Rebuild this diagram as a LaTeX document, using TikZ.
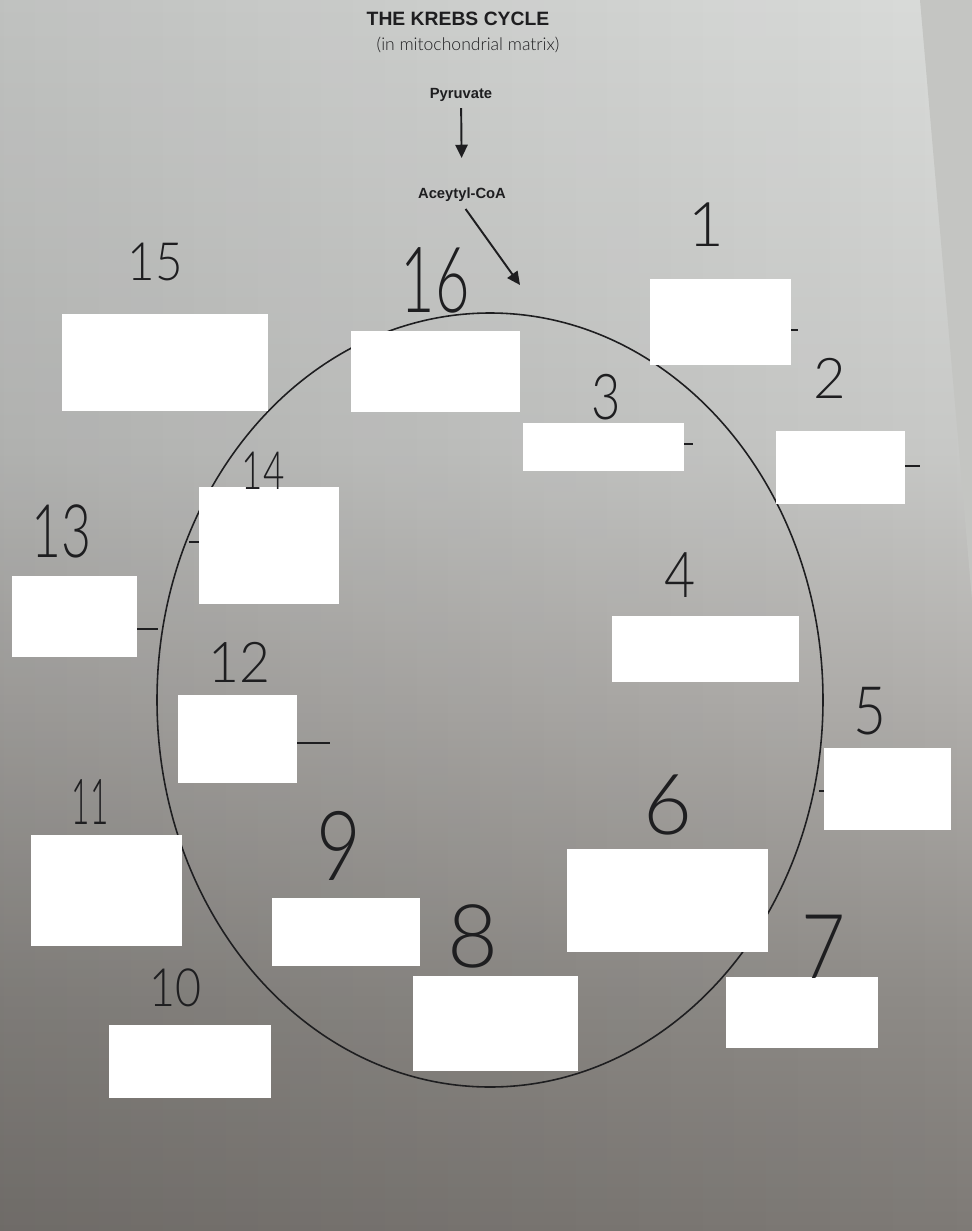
\documentclass[tikz,border=0pt]{standalone}
\usepackage{fontspec}
\newfontfamily\arial{Liberation Sans}
\newfontfamily\pen{Lato Light}
\usetikzlibrary{arrows.meta}

\definecolor{papertop}{HTML}{DADCDA}
\definecolor{paperhigh}{HTML}{C8C9C7}
\definecolor{papermid}{HTML}{B0AEAB}
\definecolor{paperlow}{HTML}{8F8C88}
\definecolor{paperbot}{HTML}{7E7A76}
\definecolor{granite}{HTML}{C4C5C2}
\definecolor{ink}{HTML}{1E1E20}

% only 25bp..75bp of a shading is stretched over the path
\pgfdeclareverticalshading{paper}{100bp}{color(0bp)=(paperbot); color(25bp)=(paperbot);
  color(34.4bp)=(paperlow); color(46.6bp)=(papermid); color(56.7bp)=(paperhigh);
  color(75bp)=(papertop); color(100bp)=(papertop)}

\newcommand{\hand}[1]{\pen\fontsize{#1}{#1}\selectfont}

\tikzset{
  blank/.style={fill=white, inner sep=0pt, outer sep=0pt},
  num/.style={inner sep=0pt, text=ink},
  printed/.style={inner sep=1pt, text=ink, font=\arial\bfseries\fontsize{8.4}{10}\selectfont},
  arr/.style={-{Triangle[length=7.5pt,width=7pt]}, line width=1.1pt, ink},
  tick/.style={ink, line width=0.7pt},
}

\begin{document}
\begin{tikzpicture}[x=0.02cm, y=-0.02cm]
  \useasboundingbox (0,0) rectangle (972,1231);

  % sheet and counter top
  \shade[shading=paper] (0,0) rectangle (972,1231);
  \shade[left color=black!12, right color=white, blend mode=multiply] (0,0) rectangle (972,1231);
  \fill[granite] (920,0) -- (972,0) -- (972,600) -- cycle;

  % heading
  \node[text=ink, font=\arial\bfseries\fontsize{11}{13}\selectfont] (title) at (458,19) {THE KREBS CYCLE};
  \node[text=ink, font=\pen\fontsize{10}{12}\selectfont] (where) at (468,45) {(in mitochondrial matrix)};

  \node[printed] (pyr) at (461,95) {Pyruvate};
  \node[printed] (acoa) at (462,195) {Aceytyl-CoA};
  \coordinate (entry) at (520,285);
  \draw[arr, shorten <=2.5pt, shorten >=16pt] (pyr) -- (acoa);
  \draw[arr, shorten <=3.5pt] (acoa.south) -- (entry);

  % the cycle
  \draw[ink, line width=0.9pt] (490,700) ellipse [x radius=333, y radius=387];

  % covered answer boxes
  \foreach \n/\xa/\ya/\xb/\yb in {
      1/650/279/791/365, 2/776/431/905/504, 3/523/423/684/471,
      4/612/616/799/682, 5/824/748/951/830, 6/567/849/768/952,
      7/726/977/878/1048, 8/413/976/578/1071, 9/272/898/420/966,
      10/109/1025/271/1098, 11/31/835/182/946, 12/178/695/297/783,
      13/12/576/137/657, 14/199/487/339/604, 15/62/314/268/411,
      16/351/331/520/412}
    \node[blank, minimum width={(\xb-\xa)*0.02cm}, minimum height={(\yb-\ya)*0.02cm}]
      (b\n) at ({(\xa+\xb)/2},{(\ya+\yb)/2}) {};

  % stubs of the old label lines
  \draw[tick] (b1.east |- 0,330) -- ++(7,0);
  \draw[tick] (b3.east |- 0,444) -- ++(9,0);
  \draw[tick] (b2.east |- 0,466) -- ++(15,0);
  \draw[tick] (b13.east |- 0,629) -- ++(21,0);
  \draw[tick] (b14.west |- 0,542) -- ++(-10,0);
  \draw[tick] (b12.east |- 0,743) -- ++(33,0);
  \draw[tick] (b5.west |- 0,791) -- ++(-5,0);

  % step numbers
  \foreach \n/\px/\py/\s/\w in {
      1/706/225/35/1, 2/830/378/32/1, 3/606/397/36/.8, 4/680/575/36/.85,
      5/870/711/38/.85, 6/668/805/48/1, 7/824/947/51/.85, 8/473/936/50/1,
      9/339/846/55/.8, 10/175/988/30/.85, 11/90/802/36/.5, 12/239/662/32/.95,
      13/61/531/42/.7, 14/263/471/30/.7, 15/155/262/30/.9, 16/435/280/52/.65}
    \node[num, font=\hand{\s}, xscale=\w] (n\n) at (\px,\py) {\n};
\end{tikzpicture}
\end{document}
